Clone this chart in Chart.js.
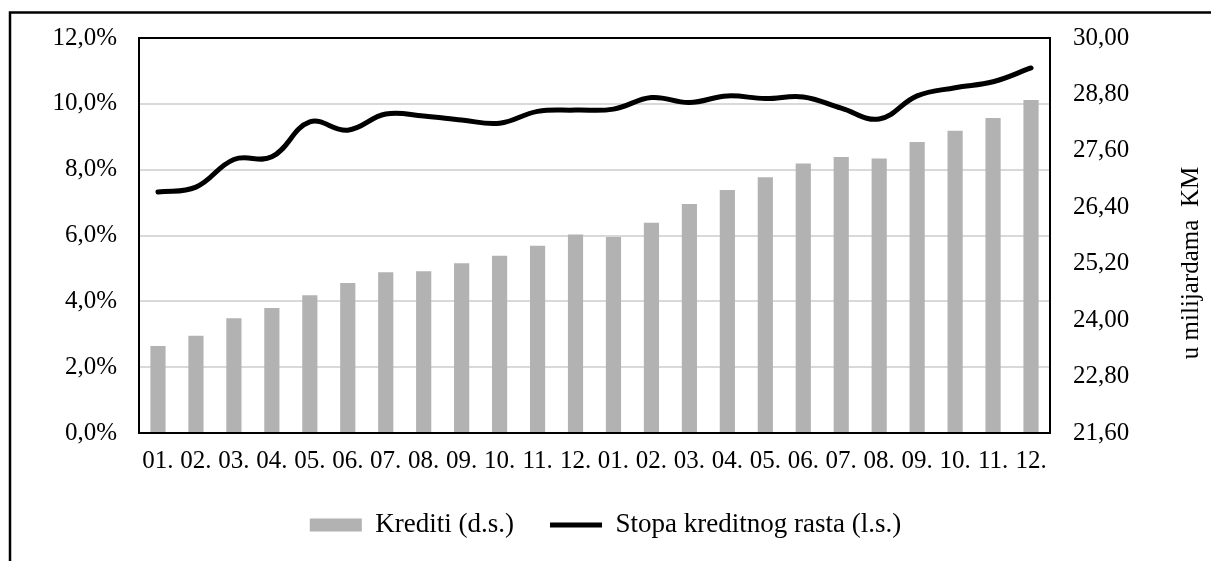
<!DOCTYPE html>
<html>
<head>
<meta charset="utf-8">
<script src="https://cdn.jsdelivr.net/npm/chart.js@4/dist/chart.umd.min.js"></script>
<style>
  html, body { margin: 0; padding: 0; background: #fff; }
  #wrap { width: 1211px; height: 561px; }
</style>
</head>
<body>
<div id="wrap"><canvas id="chart" width="1211" height="561"></canvas></div>
<script>
"use strict"

// months, two years
const months = ['01.', '02.', '03.', '04.', '05.', '06.', '07.', '08.', '09.', '10.', '11.', '12.',
                '01.', '02.', '03.', '04.', '05.', '06.', '07.', '08.', '09.', '10.', '11.', '12.'];

// Krediti, u milijardama KM (right axis)
const krediti = [23.45, 23.67, 24.04, 24.26, 24.53, 24.79, 25.02, 25.04, 25.21, 25.37, 25.58, 25.82,
                 25.77, 26.07, 26.47, 26.77, 27.04, 27.33, 27.47, 27.44, 27.79, 28.03, 28.30, 28.68];

// Stopa kreditnog rasta, % (left axis)
const stopaRasta = [7.32, 7.47, 8.31, 8.39, 9.45, 9.20, 9.69, 9.63, 9.51, 9.41, 9.77, 9.81,
                    9.84, 10.19, 10.04, 10.24, 10.16, 10.21, 9.87, 9.54, 10.24, 10.49, 10.67, 11.09];

const leftTicks = ['0,0%', '2,0%', '4,0%', '6,0%', '8,0%', '10,0%', '12,0%'];
const rightTicks = ['21,60', '22,80', '24,00', '25,20', '26,40', '27,60', '28,80', '30,00'];

const seriesNames = ['Krediti (d.s.)', 'Stopa kreditnog rasta (l.s.)'];
const rightTitle = 'u milijardama  KM';

const FONT = "'Liberation Serif', 'Times New Roman', serif";
Chart.defaults.font.family = FONT;
Chart.defaults.font.size = 25;
Chart.defaults.color = '#000';

// outer frame, plot border and rotated right title
const decor = {
    id: 'decor',
    afterDraw(chart) {
        const ctx = chart.ctx;
        const a = chart.chartArea;
        ctx.save();
        ctx.strokeStyle = '#000';
        ctx.lineWidth = 2.5;
        ctx.beginPath();
        ctx.moveTo(10, 561);
        ctx.lineTo(10, 12.5);
        ctx.lineTo(1211, 12.5);
        ctx.stroke();

        ctx.lineWidth = 2;
        ctx.strokeRect(a.left, a.top, a.right - a.left, a.bottom - a.top);

        ctx.translate(1198, 263);
        ctx.rotate(-Math.PI / 2);
        ctx.font = '25px ' + FONT;
        ctx.fillStyle = '#000';
        ctx.textAlign = 'center';
        ctx.textBaseline = 'alphabetic';
        ctx.fillText(rightTitle, 0, 0);
        ctx.restore();
    }
};

new Chart(document.getElementById('chart'), {
    type: 'bar',
    data: {
        labels: months,
        datasets: [{
            type: 'bar',
            label: seriesNames[0],
            data: krediti,
            yAxisID: 'y1',
            backgroundColor: '#b2b2b2',
            borderWidth: 0,
            barPercentage: 0.4,
            categoryPercentage: 1,
            pointStyle: 'rect',
            order: 1
        }, {
            type: 'line',
            label: seriesNames[1],
            data: stopaRasta,
            yAxisID: 'y',
            borderColor: '#000',
            backgroundColor: '#000',
            borderWidth: 5,
            borderCapStyle: 'round',
            borderJoinStyle: 'round',
            pointRadius: 0,
            pointStyle: 'line',
            tension: 0.4,
            fill: false,
            order: 0
        }]
    },
    options: {
        responsive: false,
        animation: false,
        layout: { padding: { left: 0, right: 0, top: 33, bottom: 12.5 } },
        plugins: {
            tooltip: { enabled: false },
            legend: {
                position: 'bottom',
                labels: {
                    usePointStyle: true,
                    pointStyleWidth: 52,
                    boxHeight: 13,
                    padding: 36,
                    font: { size: 27 },
                    sort: (a, b) => a.datasetIndex - b.datasetIndex
                }
            }
        },
        scales: {
            x: {
                grid: { display: false, drawTicks: false },
                border: { display: false },
                ticks: { autoSkip: false, maxRotation: 0, minRotation: 0, padding: 13 },
                afterFit: s => { s.height = 42.5; }
            },
            y: {
                position: 'left',
                min: 0,
                max: 12,
                grid: { color: '#d9d9d9', lineWidth: 2, drawTicks: false },
                border: { display: false },
                ticks: {
                    stepSize: 2,
                    padding: 22,
                    callback: (v, i) => leftTicks[i]
                },
                afterFit: s => { s.width = 139; }
            },
            y1: {
                position: 'right',
                min: 21.6,
                max: 30,
                grid: { display: false, drawTicks: false },
                border: { display: false },
                ticks: {
                    stepSize: 1.2,
                    padding: 23,
                    callback: (v, i) => rightTicks[i]
                },
                afterFit: s => { s.width = 161; }
            }
        }
    },
    plugins: [decor]
});
</script>
</body>
</html>
